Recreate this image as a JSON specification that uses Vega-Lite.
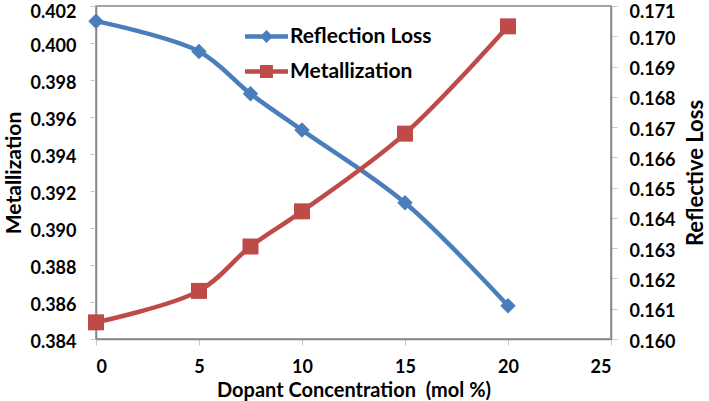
{
  "$schema": "https://vega.github.io/schema/vega-lite/v6.json",
  "width": 515,
  "height": 333,
  "autosize": {"type": "none"},
  "padding": {"left": 96, "top": 6, "right": 98, "bottom": 62},
  "background": "white",
  "config": {
    "view": {"stroke": "#868686", "strokeWidth": 1.5},
    "font": "Lato",
    "axis": {
      "grid": false,
      "domainColor": "#868686",
      "domainWidth": 1.5,
      "tickColor": "#c8c8c8",
      "tickSize": 6,
      "labelFont": "Lato",
      "labelFontSize": 18,
      "labelFontWeight": "bold",
      "labelColor": "black",
      "titleFont": "Lato",
      "titleFontWeight": "bold",
      "titleColor": "black"
    }
  },
  "data": {
    "values": [
      {"x": 0, "series": "Reflection Loss", "value": 0.1705},
      {"x": 5, "series": "Reflection Loss", "value": 0.1695},
      {"x": 7.5, "series": "Reflection Loss", "value": 0.1681},
      {"x": 10, "series": "Reflection Loss", "value": 0.1669},
      {"x": 15, "series": "Reflection Loss", "value": 0.1645},
      {"x": 20, "series": "Reflection Loss", "value": 0.1611},
      {"x": 0, "series": "Metallization", "value": 0.3849},
      {"x": 5, "series": "Metallization", "value": 0.3866},
      {"x": 7.5, "series": "Metallization", "value": 0.389},
      {"x": 10, "series": "Metallization", "value": 0.3909},
      {"x": 15, "series": "Metallization", "value": 0.3951},
      {"x": 20, "series": "Metallization", "value": 0.4009}
    ]
  },
  "encoding": {
    "x": {
      "field": "x",
      "type": "quantitative",
      "scale": {"domain": [0, 25], "nice": false},
      "axis": {
        "values": [0, 5, 10, 15, 20, 25],
        "format": "d",
        "labelPadding": 13,
        "title": "Dopant Concentration\u00a0 (mol %)",
        "titleFontSize": 20,
        "titlePadding": 4
      }
    },
    "color": {
      "field": "series",
      "type": "nominal",
      "scale": {"domain": ["Reflection Loss", "Metallization"], "range": ["#4a7ebb", "#be4b48"]},
      "legend": {
        "orient": "none",
        "legendX": 149,
        "legendY": 9,
        "title": null,
        "labelFont": "Lato",
        "labelFontSize": 21,
        "labelFontWeight": "bold",
        "labelColor": "black",
        "symbolSize": 1849,
        "labelOffset": 2,
        "rowPadding": 3,
        "symbolStrokeWidth": 0,
        "encode": {
          "symbols": {
            "update": {
              "shape": {"signal": "datum.value === 'Metallization' ? 'M-1,-0.1H1V0.1H-1Z M-0.3,-0.3H0.3V0.3H-0.3Z' : 'M-1,-0.1H1V0.1H-1Z M-0.3,0L0,-0.3L0.3,0L0,0.3Z'"},
              "fill": {"scale": "color", "field": "value"},
              "strokeWidth": {"value": 0}
            }
          }
        }
      }
    }
  },
  "layer": [
    {
      "transform": [{"filter": "datum.series === 'Reflection Loss'"}],
      "encoding": {
        "y": {
          "field": "value",
          "type": "quantitative",
          "scale": {"domain": [0.16, 0.171], "zero": false, "nice": false},
          "axis": {
            "orient": "right",
            "values": [0.16, 0.161, 0.162, 0.163, 0.164, 0.165, 0.166, 0.167, 0.168, 0.169, 0.17, 0.171],
            "format": ".3f",
            "labelPadding": 12,
            "labelOffset": {"condition": {"test": "datum.value > 0.1705", "value": 6}, "value": 3},
            "title": "Reflective Loss",
            "titleFontSize": 22,
            "titleAngle": 270,
            "titleBaseline": "top",
            "titlePadding": 10
          }
        }
      },
      "layer": [
        {"mark": {"type": "line", "interpolate": "catmull-rom", "strokeWidth": 4.5}},
        {"mark": {"type": "point", "filled": true, "shape": "diamond", "size": 240, "opacity": 1}}
      ]
    },
    {
      "transform": [{"filter": "datum.series === 'Metallization'"}],
      "encoding": {
        "y": {
          "field": "value",
          "type": "quantitative",
          "scale": {"domain": [0.384, 0.402], "zero": false, "nice": false},
          "axis": {
            "orient": "left",
            "values": [0.384, 0.386, 0.388, 0.39, 0.392, 0.394, 0.396, 0.398, 0.4, 0.402],
            "format": ".3f",
            "labelPadding": 14,
            "labelOffset": {"condition": {"test": "datum.value > 0.4015", "value": 6}, "value": 3},
            "title": "Metallization",
            "titleFontSize": 21,
            "titlePadding": 5
          }
        }
      },
      "layer": [
        {"mark": {"type": "line", "interpolate": "catmull-rom", "strokeWidth": 4.5}},
        {"mark": {"type": "point", "filled": true, "shape": "square", "size": 256, "opacity": 1}}
      ]
    }
  ],
  "resolve": {"scale": {"y": "independent"}}
}
